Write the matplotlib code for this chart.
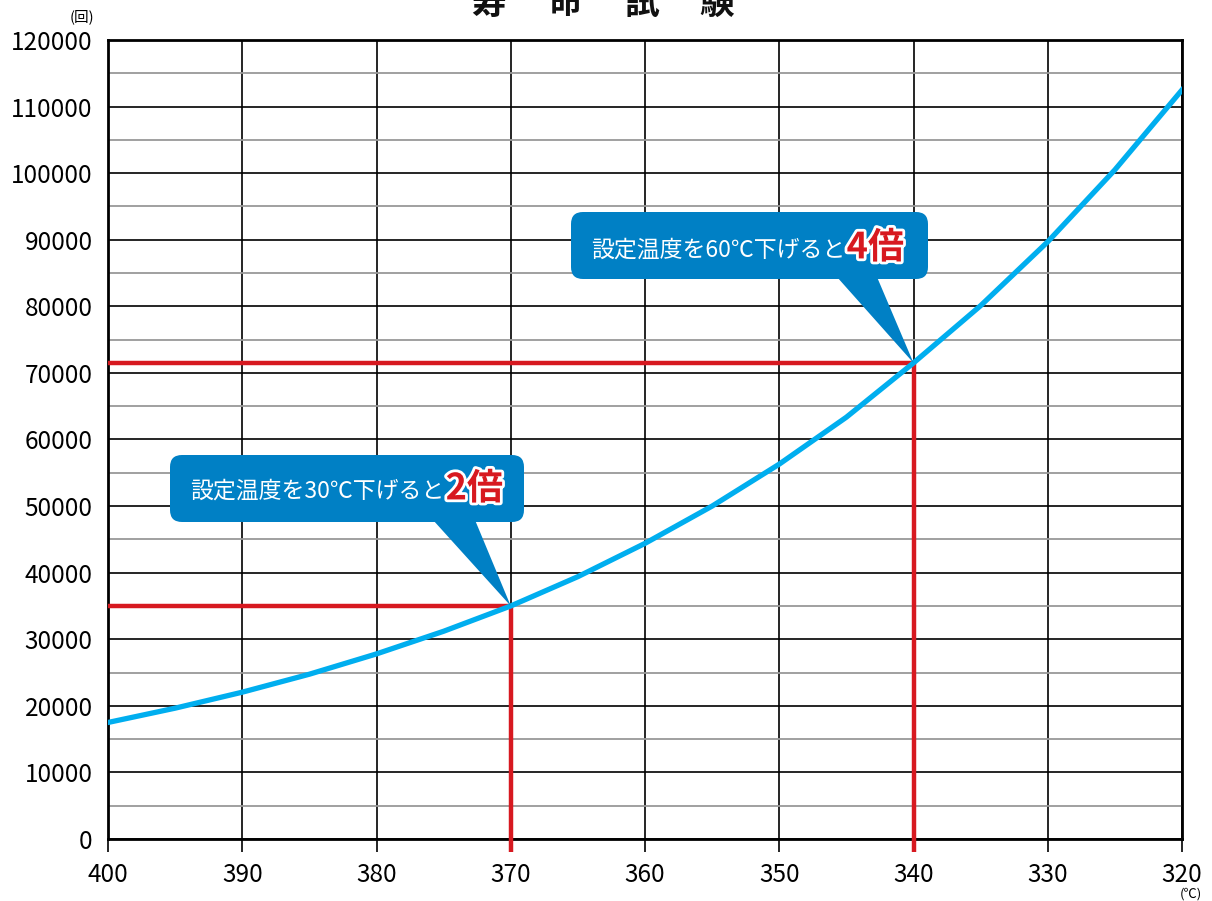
import matplotlib
matplotlib.use("Agg")
import matplotlib.pyplot as plt
from matplotlib.patches import FancyBboxPatch, Polygon
import matplotlib.patheffects as pe

plt.rcParams['font.family'] = ['Noto Sans CJK JP', 'DejaVu Sans']

# ---- data ----
temps = [400, 395, 390, 385, 380, 375, 370, 365, 360, 355, 350, 345, 340, 335, 330, 325, 320]
cycles = [17500, 19650, 22050, 24750, 27800, 31200, 35000, 39400, 44400, 50000,
          56300, 63350, 71500, 80100, 89700, 100500, 112500]
x_ticks = [400, 390, 380, 370, 360, 350, 340, 330, 320]
y_ticks = [0, 10000, 20000, 30000, 40000, 50000, 60000, 70000, 80000, 90000,
           100000, 110000, 120000]
marks = [(370, 35000), (340, 71500)]
callout_texts = ["設定温度を30℃下げると", "設定温度を60℃下げると"]
callout_bold = ["2倍", "4倍"]
title_chars = ["寿", "命", "試", "験"]

BLUE = "#00AEEF"
RED = "#D71920"
BUBBLE = "#0080C5"

W, H = 1212, 901
fig = plt.figure(figsize=(W / 100, H / 100), dpi=100)
ax = fig.add_axes([108 / W, 1 - 839 / H, 1074 / W, 799 / H])

ax.set_xlim(400, 320)
ax.set_ylim(0, 120000)
ax.set_xticks(x_ticks)
ax.set_yticks(y_ticks)
ax.set_yticks([v + 5000 for v in y_ticks[:-1]], minor=True)
ax.set_xticklabels([str(t) for t in x_ticks], fontsize=17.5)
ax.set_yticklabels([str(t) for t in y_ticks], fontsize=17.5)
ax.tick_params(axis='x', which='major', length=9.5, width=1.2, color='black', pad=7, direction='out')
ax.tick_params(axis='y', which='both', length=0, pad=11)
ax.grid(which='major', axis='both', color='black', linewidth=1.2, zorder=1)
ax.grid(which='minor', axis='y', color='#999999', linewidth=1.3, zorder=1)
ax.set_axisbelow(True)
for s in ax.spines.values():
    s.set_linewidth(2)
    s.set_color('black')

# red marker lines
tick_ext = -1950
for (xm, ym) in marks:
    ax.plot([400, xm], [ym, ym], color=RED, linewidth=3.2, zorder=3, solid_capstyle='butt')
    ax.plot([xm, xm], [tick_ext, ym], color=RED, linewidth=3.2, zorder=3,
            solid_capstyle='butt', clip_on=False)

# curve
ax.plot(temps, cycles, color=BLUE, linewidth=3.8, zorder=4, solid_joinstyle='round')

# overlay in pixel coords (y downward)
ov = fig.add_axes([0, 0, 1, 1], zorder=5)
ov.set_xlim(0, W)
ov.set_ylim(H, 0)
ov.axis('off')
ov.patch.set_alpha(0)

bubbles = [
    dict(box=(170, 455, 354, 67), base=(433, 475), text_xy=(190, 491)),
    dict(box=(571, 212, 357, 67), base=(837, 877), text_xy=(591, 250)),
]
for i, b in enumerate(bubbles):
    x0, y0, bw, bh = b['box']
    tip = ax.transData.transform(marks[i])
    tx, ty = tip[0], H - tip[1]
    ov.add_patch(FancyBboxPatch((x0 + 12, y0 + 12), bw - 24, bh - 24,
                                boxstyle="round,pad=12", fc=BUBBLE, ec='none'))
    ov.add_patch(Polygon([(b['base'][0], y0 + bh - 2), (b['base'][1], y0 + bh - 2), (tx, ty)],
                         closed=True, fc=BUBBLE, ec='none'))
    t1 = ov.text(b['text_xy'][0], b['text_xy'][1], callout_texts[i], color='white',
                 fontsize=16.5, va='center', ha='left')
    ov.annotate(callout_bold[i], xy=(1, 0.5), xycoords=t1, xytext=(1, 1.5),
                textcoords='offset points', va='center', ha='left',
                color=RED, fontsize=26, fontweight='bold',
                path_effects=[pe.withStroke(linewidth=4, foreground='white')])

# title (cut off at top, as in the reference)
for cx, ch in zip([489, 565, 642, 717], title_chars):
    ov.text(cx, 3, ch, fontsize=25, fontweight='bold', ha='center', va='center', color='#111111')

# units
ov.text(82, 17, "(回)", fontsize=10.5, ha='center', va='center')
ov.text(1191, 894.5, "(℃)", fontsize=9.5, ha='center', va='center')

fig.savefig("out.png", dpi=100)
